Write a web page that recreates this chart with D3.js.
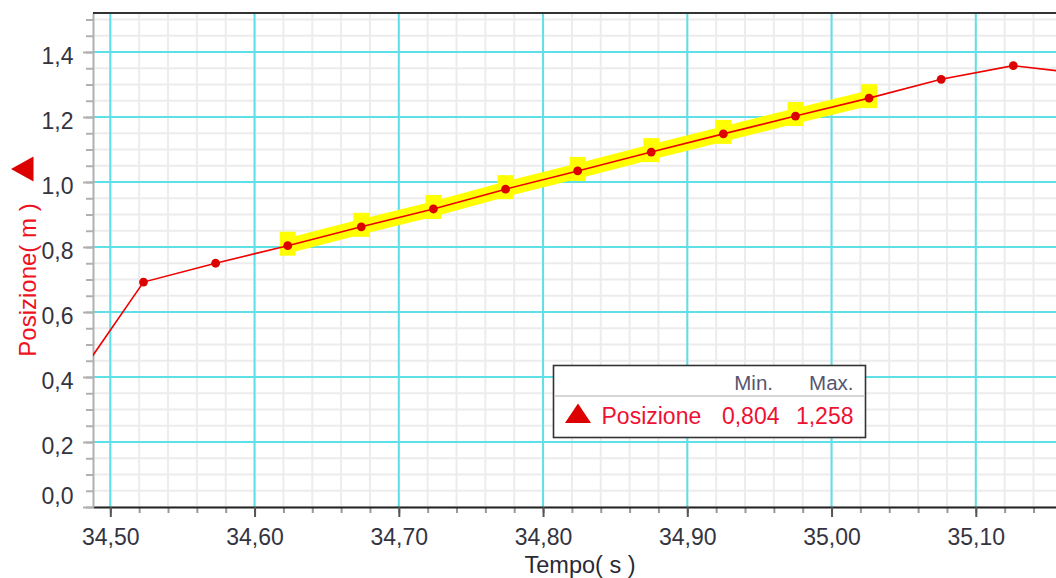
<!DOCTYPE html>
<html>
<head>
<meta charset="utf-8">
<script src="https://cdn.jsdelivr.net/npm/d3@7"></script>
<style>
  html, body { margin: 0; padding: 0; background: #fff; }
  svg { display: block; }
  text { font-family: "Liberation Sans", Arial, sans-serif; }
</style>
</head>
<body>
<svg id="chart" width="1056" height="578"></svg>
<script>
// Time samples (s) and measured position (m)
const tempo = [34.472, 34.523, 34.573, 34.623, 34.674, 34.724, 34.774, 34.824,
               34.875, 34.925, 34.975, 35.026, 35.076, 35.126, 35.176];
const posizione = [0.364, 0.692, 0.750, 0.804, 0.862, 0.917, 0.978, 1.034,
                   1.092, 1.148, 1.203, 1.258, 1.316, 1.358, 1.332];

// Highlighted selection (first and last sample index)
const selStart = 3, selEnd = 11;

// Axis ticks
const xMajor = [34.5, 34.6, 34.7, 34.8, 34.9, 35.0, 35.1];
const yMajor = [0.0, 0.2, 0.4, 0.6, 0.8, 1.0, 1.2, 1.4];
const xMinorStep = 0.02, yMinorStep = 0.05;

const seriesName = "Posizione";
const xTitle = "Tempo( s )";
const yTitle = "Posizione( m )";

const W = 1056, H = 578;
const plot = { left: 93, right: 1056, top: 13, bottom: 507 };

const it = d3.formatLocale({ decimal: ",", thousands: ".", grouping: [3], currency: ["€", ""] });
const fx = it.format(".2f"), fy = it.format(".1f"), fv = it.format(".3f");

const x = d3.scaleLinear().domain([34.488, 35.1556]).range([plot.left, plot.right]);
const y = d3.scaleLinear().domain([0, 1.52]).range([plot.bottom, plot.top]);

const xMinor = d3.range(Math.ceil(x.domain()[0] / xMinorStep), Math.floor(x.domain()[1] / xMinorStep) + 1)
  .map(i => +(i * xMinorStep).toFixed(3));
const yMinor = d3.range(0, Math.floor(y.domain()[1] / yMinorStep) + 1)
  .map(i => +(i * yMinorStep).toFixed(3));

const svg = d3.select("#chart");
svg.append("rect").attr("width", W).attr("height", H).attr("fill", "#fff");

svg.append("defs").append("clipPath").attr("id", "plotClip")
  .append("rect")
  .attr("x", plot.left).attr("y", plot.top)
  .attr("width", plot.right - plot.left).attr("height", plot.bottom - plot.top);

// Fine grid
const grid = svg.append("g");
grid.selectAll(".vmin").data(xMinor).join("line")
  .attr("x1", d => x(d)).attr("x2", d => x(d))
  .attr("y1", plot.top).attr("y2", plot.bottom)
  .attr("stroke", "#ececec").attr("stroke-width", 2);
grid.selectAll(".hmin").data(yMinor).join("line")
  .attr("x1", plot.left).attr("x2", plot.right)
  .attr("y1", d => y(d)).attr("y2", d => y(d))
  .attr("stroke", "#ececec").attr("stroke-width", 2);

// Major grid
grid.selectAll(".vmaj").data(xMajor).join("line")
  .attr("x1", d => x(d)).attr("x2", d => x(d))
  .attr("y1", plot.top).attr("y2", plot.bottom)
  .attr("stroke", "#5fe0e8").attr("stroke-width", 2);
grid.selectAll(".hmaj").data(yMajor.filter(d => d > 0)).join("line")
  .attr("x1", plot.left).attr("x2", plot.right)
  .attr("y1", d => y(d)).attr("y2", d => y(d))
  .attr("stroke", "#5fe0e8").attr("stroke-width", 2);

// Bottom axis: minor ticks, then labelled major ticks
const xMinorAxis = svg.append("g").attr("transform", `translate(0,${plot.bottom})`)
  .call(d3.axisBottom(x).tickValues(xMinor).tickSize(6).tickFormat(""));
xMinorAxis.select(".domain").remove();
xMinorAxis.selectAll("line").attr("stroke", "#999").attr("stroke-width", 2);

const xAxis = svg.append("g").attr("transform", `translate(0,${plot.bottom})`)
  .call(d3.axisBottom(x).tickValues(xMajor).tickSize(10).tickSizeOuter(0).tickFormat(fx));
xAxis.select(".domain").attr("stroke", "#222").attr("stroke-width", 2);
xAxis.selectAll(".tick line").attr("stroke", "#555").attr("stroke-width", 2);
xAxis.selectAll("text")
  .attr("y", 38).attr("dy", 0)
  .attr("font-size", 23).attr("fill", "#34343f")
  .style("font-family", "'Liberation Sans', Arial, sans-serif");

// Left axis
const yMinorAxis = svg.append("g").attr("transform", `translate(${plot.left},0)`)
  .call(d3.axisLeft(y).tickValues(yMinor).tickSize(7).tickFormat(""));
yMinorAxis.select(".domain").remove();
yMinorAxis.selectAll("line").attr("stroke", "#b0b0b0").attr("stroke-width", 2);

const yAxis = svg.append("g").attr("transform", `translate(${plot.left},0)`)
  .call(d3.axisLeft(y).tickValues(yMajor).tickSize(10).tickSizeOuter(0).tickPadding(9.5).tickFormat(fy));
yAxis.select(".domain").attr("stroke", "#b0b0b0").attr("stroke-width", 2);
yAxis.selectAll(".tick line").attr("stroke", "#b0b0b0").attr("stroke-width", 2);
yAxis.selectAll("text")
  .attr("font-size", 23).attr("fill", "#34343f")
  .attr("transform", d => d === 0 ? "translate(0,-11)" : "translate(0,4)")
  .style("font-family", "'Liberation Sans', Arial, sans-serif");

// Top frame line
svg.append("line")
  .attr("x1", plot.left).attr("x2", plot.right)
  .attr("y1", plot.top).attr("y2", plot.top)
  .attr("stroke", "#333").attr("stroke-width", 2);

// Data
const pts = tempo.map((t, i) => ({ t, p: posizione[i], i }));
const sel = pts.filter(d => d.i >= selStart && d.i <= selEnd);
const line = d3.line().x(d => x(d.t)).y(d => y(d.p));

const dataG = svg.append("g").attr("clip-path", "url(#plotClip)");

// Selection highlight
dataG.append("path").datum(sel)
  .attr("d", line)
  .attr("fill", "none").attr("stroke", "#ffff00").attr("stroke-width", 15);
dataG.selectAll(".selmark").data(sel).join("rect")
  .attr("x", d => x(d.t) - 8).attr("y", d => y(d.p) - 14)
  .attr("width", 16).attr("height", 24)
  .attr("fill", "#ffff00");

// Series line and samples
dataG.append("path").datum(pts)
  .attr("d", line)
  .attr("fill", "none").attr("stroke", "#ee0000").attr("stroke-width", 1.6);
dataG.selectAll(".pt").data(pts).join("circle")
  .attr("cx", d => x(d.t)).attr("cy", d => y(d.p)).attr("r", 4.4)
  .attr("fill", "#dd0000");

// Axis titles
svg.append("text")
  .attr("x", 580).attr("y", 573)
  .attr("text-anchor", "middle")
  .attr("font-size", 23.5).attr("fill", "#2a2a35")
  .text(xTitle);

svg.append("text")
  .attr("transform", "translate(36,280) rotate(-90)")
  .attr("text-anchor", "middle")
  .attr("font-size", 24).attr("fill", "#ee1122")
  .text(yTitle);

svg.append("path")
  .attr("d", "M11,169 L33.5,156.5 L33.5,181.5 Z")
  .attr("fill", "#dd0000");

// Legend with min / max of the selection
const selVals = sel.map(d => d.p);
const vMin = d3.min(selVals), vMax = d3.max(selVals);

const lg = svg.append("g");
lg.append("rect")
  .attr("x", 553.5).attr("y", 365.5).attr("width", 312).attr("height", 72)
  .attr("fill", "#fff").attr("stroke", "#333").attr("stroke-width", 1.6);
lg.append("line")
  .attr("x1", 554).attr("x2", 865).attr("y1", 396).attr("y2", 396)
  .attr("stroke", "#c8c8c8").attr("stroke-width", 1.5);
lg.append("text").attr("x", 773).attr("y", 390).attr("text-anchor", "end")
  .attr("font-size", 20.5).attr("fill", "#555570").text("Min.");
lg.append("text").attr("x", 853.5).attr("y", 390).attr("text-anchor", "end")
  .attr("font-size", 20.5).attr("fill", "#555570").text("Max.");
lg.append("path").attr("d", "M565,423 L591,423 L578,403.5 Z").attr("fill", "#dd0000");
lg.append("text").attr("x", 601.5).attr("y", 424)
  .attr("font-size", 23).attr("fill", "#ee1133").text(seriesName);
lg.append("text").attr("x", 779.5).attr("y", 424).attr("text-anchor", "end")
  .attr("font-size", 23).attr("fill", "#ee1133").text(fv(vMin));
lg.append("text").attr("x", 853.5).attr("y", 424).attr("text-anchor", "end")
  .attr("font-size", 23).attr("fill", "#ee1133").text(fv(vMax));
</script>
</body>
</html>
